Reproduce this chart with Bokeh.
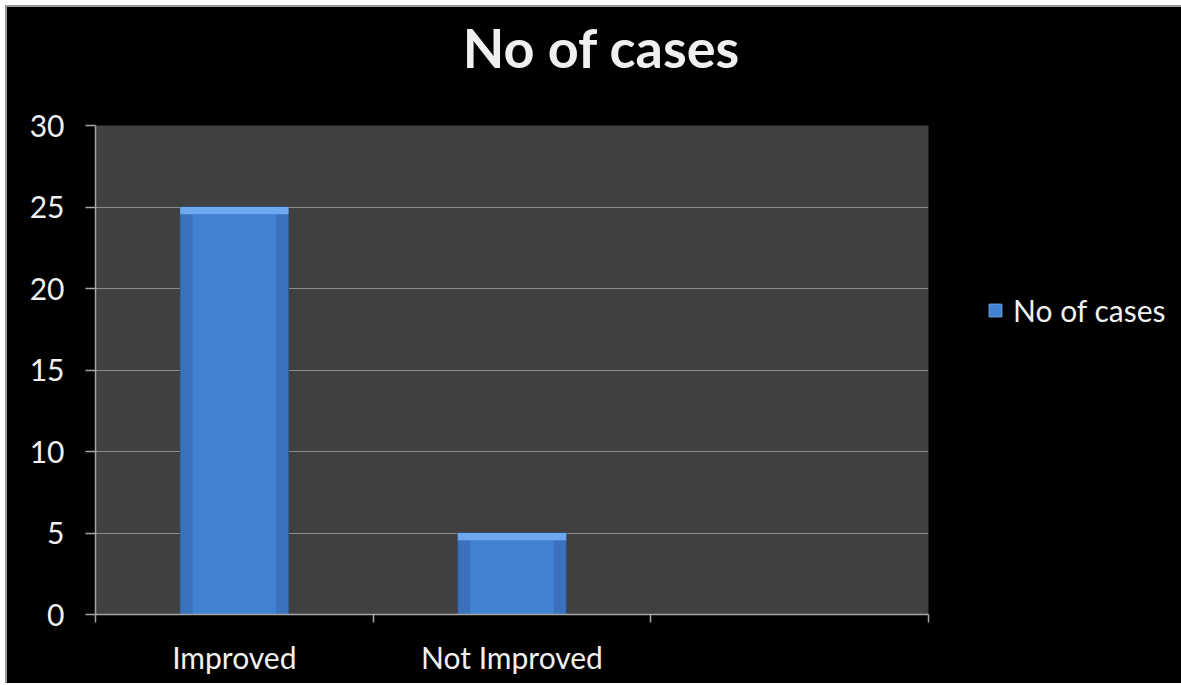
from bokeh.plotting import figure
from bokeh.models import (Range1d, ColumnDataSource, Legend, LegendItem, Label,
                          SingleIntervalTicker, FixedTicker, LinearAxis, Spacer)
from bokeh.layouts import column, row
from bokeh.embed import file_html
from bokeh.resources import INLINE

# Chart data
categories = ["Improved", "Not Improved", ""]
bar_categories = ["Improved", "Not Improved"]
cases = [25, 5]
series_name = "No of cases"
chart_title = "No of cases"

FONT = "Lato"
TEXT = "#f0f0f0"
AXIS = "#a6a6a6"
BAR = "#3a72bd"
BAR_EDGE = "#2d5d9c"
BAR_MID = "#4282d2"
BAR_TOP = "#6ea8ee"

TOTAL_W = 1174
LEFT, FRAME_W, RIGHT = 88, 833, 20
TOP, FRAME_H, BOTTOM = 20, 489, 69
TITLE_H = 98

# each category occupies one unit-wide slot; bars sit in the slot centres
slot_centres = [i + 0.5 for i in range(len(categories))]
slot_edges = list(range(len(categories) + 1))
bar_x = [categories.index(c) + 0.5 for c in bar_categories]

src = ColumnDataSource(dict(x=bar_x, top=cases,
                            hl_bottom=[v - 0.45 for v in cases]))


def dark(fig):
    fig.background_fill_color = "#000000"
    fig.border_fill_color = "#000000"
    fig.outline_line_color = None
    fig.grid.visible = False


# ---- title strip ----
head = figure(width=TOTAL_W, height=TITLE_H, x_range=Range1d(0, 1), y_range=Range1d(0, 1),
              output_backend="svg", toolbar_location=None, min_border=0,
              x_axis_type=None, y_axis_type=None)
dark(head)
head.add_layout(Label(x=594, y=58, x_units="screen", y_units="screen",
                      text=chart_title, text_align="center", text_baseline="alphabetic",
                      text_font=FONT, text_font_style="bold", text_font_size="54px",
                      text_color=TEXT))

# ---- main chart ----
p = figure(x_range=Range1d(0, len(categories)), y_range=Range1d(0, 30),
           x_axis_type=None, frame_width=FRAME_W, frame_height=FRAME_H,
           output_backend="svg", toolbar_location=None,
           min_border_left=LEFT, min_border_right=RIGHT, min_border_top=TOP,
           min_border_bottom=BOTTOM)
p.background_fill_color = "#404040"
p.border_fill_color = "#000000"
p.outline_line_color = None

# bars: body, lighter centre and bevelled top edge
p.vbar(x="x", top="top", bottom=0, width=0.39, source=src,
       fill_color=BAR, line_color=BAR_EDGE, line_width=1)
p.vbar(x="x", top="hl_bottom", bottom=0, width=0.3, source=src,
       fill_color=BAR_MID, line_color=None)
p.vbar(x="x", top="top", bottom="hl_bottom", width=0.39, source=src,
       fill_color=BAR_TOP, line_color=None)

# x axis: names under the slot centres, tick marks between the slots
xax = LinearAxis(ticker=FixedTicker(
    ticks=[c for c, n in zip(slot_centres, categories) if n],
    minor_ticks=slot_edges))
xax.major_label_overrides = {c: n for c, n in zip(slot_centres, categories) if n}
xax.axis_line_color = AXIS
xax.axis_line_width = 1.5
xax.major_tick_line_color = None
xax.major_tick_out = 8
xax.major_tick_in = 0
xax.minor_tick_line_color = AXIS
xax.minor_tick_line_width = 1.5
xax.minor_tick_out = 8
xax.minor_tick_in = 0
xax.major_label_standoff = 16
xax.major_label_text_font = FONT
xax.major_label_text_font_size = "30px"
xax.major_label_text_color = TEXT
p.add_layout(xax, "below")

# y axis
yax = p.yaxis[0]
yax.ticker = SingleIntervalTicker(interval=5)
yax.axis_line_color = AXIS
yax.axis_line_width = 1.5
yax.major_tick_line_color = AXIS
yax.major_tick_line_width = 1.5
yax.minor_tick_line_color = None
yax.major_tick_out = 10
yax.major_tick_in = 0
yax.major_label_standoff = 21
yax.major_label_text_font = FONT
yax.major_label_text_font_size = "30px"
yax.major_label_text_color = TEXT

p.xgrid.grid_line_color = None
p.ygrid.grid_line_color = "#8c8c8c"
p.ygrid.grid_line_width = 1

# ---- legend panel to the right of the chart ----
main_w = LEFT + FRAME_W + RIGHT
lg = figure(frame_width=TOTAL_W - main_w, frame_height=FRAME_H,
            x_range=Range1d(-10, -9), y_range=Range1d(0, 30),
            output_backend="svg", toolbar_location=None,
            min_border_left=0, min_border_right=0, min_border_top=TOP,
            min_border_bottom=BOTTOM, x_axis_type=None, y_axis_type=None)
dark(lg)
# same bars, kept out of this panel's view: only their legend key shows
key = lg.vbar(x="x", top="top", bottom=0, width=0.39, source=src,
              fill_color=BAR_MID, line_color=BAR_TOP, line_width=1)

legend = Legend(items=[LegendItem(label=series_name, renderers=[key])],
                location=(39, 286), orientation="vertical",
                label_text_font=FONT, label_text_font_size="30px",
                label_text_color=TEXT, glyph_width=16, glyph_height=16,
                padding=0, margin=0, spacing=0, label_standoff=10,
                background_fill_alpha=0, border_line_color=None)
lg.add_layout(legend)

chart = column(head, row(p, lg, spacing=0), spacing=0)
chart.styles = {"border-top": "2px solid #9a9a9a", "border-left": "2px solid #9a9a9a",
                "background-color": "#000000"}

layout = column(Spacer(height=5, width=10), row(Spacer(width=5, height=10), chart))
layout.styles = {"background-color": "#ffffff"}

open("out.html", "w").write(file_html(layout, INLINE))
